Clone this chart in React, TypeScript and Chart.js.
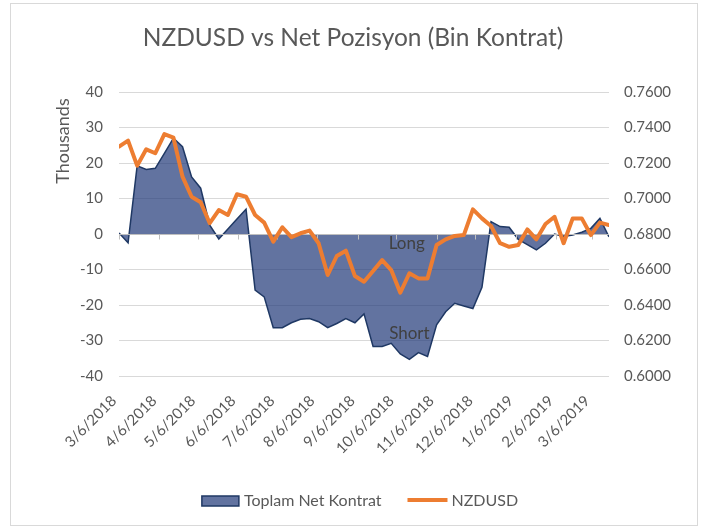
import React, { useEffect, useRef } from 'react';
import { Chart, registerables } from 'chart.js';

Chart.register(...registerables);

const weekDates = [
  '3/6/2018', '3/13/2018', '3/20/2018', '3/27/2018', '4/3/2018', '4/10/2018', '4/17/2018', '4/24/2018',
  '5/1/2018', '5/8/2018', '5/15/2018', '5/22/2018', '5/29/2018', '6/5/2018', '6/12/2018', '6/19/2018',
  '6/26/2018', '7/3/2018', '7/10/2018', '7/17/2018', '7/24/2018', '7/31/2018', '8/7/2018', '8/14/2018',
  '8/21/2018', '8/28/2018', '9/4/2018', '9/11/2018', '9/18/2018', '9/25/2018', '10/2/2018', '10/9/2018',
  '10/16/2018', '10/23/2018', '10/30/2018', '11/6/2018', '11/13/2018', '11/20/2018', '11/27/2018', '12/4/2018',
  '12/11/2018', '12/18/2018', '12/25/2018', '1/1/2019', '1/8/2019', '1/15/2019', '1/22/2019', '1/29/2019',
  '2/5/2019', '2/12/2019', '2/19/2019', '2/26/2019', '3/5/2019', '3/12/2019', '3/19/2019',
];

// Toplam Net Kontrat (thousands)
const netPositions = [
  0.3, -2.5, 19.2, 18.2, 18.5, 22.7, 27.0, 24.6, 16.1, 12.9, 2.5, -1.4, 1.4, 4.2, 7.0, -15.8,
  -17.7, -26.4, -26.4, -25.0, -24.0, -23.8, -24.7, -26.4, -25.2, -23.8, -25.0, -22.5, -31.7, -31.7, -30.8, -33.8,
  -35.3, -33.4, -34.5, -25.6, -21.9, -19.5, -20.3, -21.0, -15.0, 3.5, 2.1, 1.9, -1.5, -3.0, -4.5, -2.6,
  0.0, -0.7, -0.3, 0.5, 1.6, 4.4, -0.8,
];

const nzdusd = [
  0.7292, 0.7326, 0.7185, 0.7277, 0.7255, 0.7363, 0.7343, 0.7123, 0.7010, 0.6979, 0.6861, 0.6935, 0.6907, 0.7024, 0.7010, 0.6907,
  0.6864, 0.6757, 0.6838, 0.6782, 0.6804, 0.6819, 0.6748, 0.6569, 0.6676, 0.6706, 0.6563, 0.6531, 0.6592, 0.6653, 0.6597, 0.6469,
  0.6579, 0.6550, 0.6550, 0.6738, 0.6770, 0.6789, 0.6794, 0.6939, 0.6888, 0.6845, 0.6748, 0.6728, 0.6738, 0.6826, 0.6770, 0.6856,
  0.6897, 0.6748, 0.6888, 0.6888, 0.6794, 0.6864, 0.6851,
];

const monthTickLabels = [
  '3/6/2018', '4/6/2018', '5/6/2018', '6/6/2018', '7/6/2018', '8/6/2018', '9/6/2018',
  '10/6/2018', '11/6/2018', '12/6/2018', '1/6/2019', '2/6/2019', '3/6/2019',
];

const seriesNames = ['Toplam Net Kontrat', 'NZDUSD'];
const chartTitle = 'NZDUSD vs Net Pozisyon (Bin Kontrat)';
const leftAxisTitle = 'Thousands';
const annotationTexts = ['Long', 'Short'];
const annotationDates = ['10/14/2018', '10/16/2018'];
const annotationValues = [-2.8, -27.9];

const FONT = 'Lato, "Open Sans", sans-serif';
const AREA_FILL = 'rgba(31,56,120,0.70)';
const AREA_LINE = '#1F3864';
const ORANGE = '#ED7D31';
const TEXT = '#595959';

function toDay(s: string): number {
  const [m, d, y] = s.split('/').map(Number);
  const [m0, d0, y0] = weekDates[0].split('/').map(Number);
  return (Date.UTC(y, m - 1, d) - Date.UTC(y0, m0 - 1, d0)) / 86400000;
}

const decorPlugin = {
  id: 'decor',
  beforeDraw(chart: any) {
    const ctx = chart.ctx;
    ctx.save();
    ctx.fillStyle = '#ffffff';
    ctx.fillRect(0, 0, chart.width, chart.height);
    ctx.strokeStyle = '#D9D9D9';
    ctx.lineWidth = 1;
    ctx.strokeRect(10.5, 3.5, 687, 522);
    ctx.restore();
  },
  afterDatasetDraw(chart: any, args: any) {
    if (args.index !== 0) return;
    const ctx = chart.ctx;
    const ys = chart.scales.y;
    const xs = chart.scales.x;
    const area = chart.chartArea;
    const y0 = Math.round(ys.getPixelForValue(0)) + 0.5;
    ctx.save();
    ctx.strokeStyle = '#BFBFBF';
    ctx.lineWidth = 1;
    ctx.beginPath();
    ctx.moveTo(area.left, y0);
    ctx.lineTo(area.right, y0);
    xs.ticks.forEach((t: any) => {
      const px = Math.round(xs.getPixelForValue(t.value)) + 0.5;
      ctx.moveTo(px, y0);
      ctx.lineTo(px, y0 + 5);
    });
    ctx.stroke();
    ctx.restore();
  },
  afterDraw(chart: any) {
    const ctx = chart.ctx;
    const xs = chart.scales.x;
    const ys = chart.scales.y;
    ctx.save();
    // title
    ctx.fillStyle = TEXT;
    ctx.font = `24.5px ${FONT}`;
    ctx.textAlign = 'center';
    ctx.textBaseline = 'middle';
    ctx.fillText(chartTitle, 353, 38);
    // left axis title
    ctx.save();
    ctx.translate(63, 141);
    ctx.rotate(-Math.PI / 2);
    ctx.font = `18px ${FONT}`;
    ctx.fillText(leftAxisTitle, 0, 0);
    ctx.restore();
    // annotations
    ctx.fillStyle = '#404040';
    ctx.font = `17px ${FONT}`;
    annotationTexts.forEach((t, i) => {
      ctx.fillText(t, xs.getPixelForValue(toDay(annotationDates[i])), ys.getPixelForValue(annotationValues[i]));
    });
    // legend
    ctx.font = `16px ${FONT}`;
    ctx.textAlign = 'left';
    const w1 = ctx.measureText(seriesNames[0]).width;
    const w2 = ctx.measureText(seriesNames[1]).width;
    const total = 37 + 5 + w1 + 26 + 40 + 4 + w2;
    let x = 360 - total / 2;
    const ly = 501;
    ctx.fillStyle = AREA_FILL;
    ctx.fillRect(x, ly - 5, 37, 10);
    ctx.strokeStyle = AREA_LINE;
    ctx.lineWidth = 1.5;
    ctx.strokeRect(x, ly - 5, 37, 10);
    x += 42;
    ctx.fillStyle = TEXT;
    ctx.fillText(seriesNames[0], x, ly);
    x += w1 + 26;
    ctx.strokeStyle = ORANGE;
    ctx.lineWidth = 4;
    ctx.beginPath();
    ctx.moveTo(x, ly - 1);
    ctx.lineTo(x + 40, ly - 1);
    ctx.stroke();
    x += 44;
    ctx.fillText(seriesNames[1], x, ly);
    ctx.restore();
  },
};

export default function App() {
  const canvasRef = useRef<HTMLCanvasElement | null>(null);

  useEffect(() => {
    if (!canvasRef.current) return;
    Chart.defaults.font.family = FONT;
    const days = weekDates.map(toDay);
    const tickDays = monthTickLabels.map(toDay);
    const chart = new Chart(canvasRef.current, {
      type: 'line',
      data: {
        datasets: [
          {
            label: seriesNames[0],
            data: days.map((d, i) => ({ x: d, y: netPositions[i] })),
            yAxisID: 'y',
            fill: 'origin',
            backgroundColor: AREA_FILL,
            borderColor: AREA_LINE,
            borderWidth: 1.5,
            pointRadius: 0,
            tension: 0,
            order: 2,
          },
          {
            label: seriesNames[1],
            data: days.map((d, i) => ({ x: d, y: nzdusd[i] })),
            yAxisID: 'y1',
            fill: false,
            borderColor: ORANGE,
            backgroundColor: ORANGE,
            borderWidth: 4,
            borderJoinStyle: 'round',
            borderCapStyle: 'round',
            pointRadius: 0,
            tension: 0,
            order: 1,
          },
        ],
      },
      options: {
        animation: false,
        responsive: false,
        layout: { padding: { top: 92, left: 0, right: 0, bottom: 0 } },
        plugins: {
          legend: { display: false },
          title: { display: false },
          tooltip: { enabled: false },
        },
        scales: {
          x: {
            type: 'linear',
            min: days[0],
            max: days[days.length - 1],
            grid: { display: false },
            border: { display: false },
            afterBuildTicks: (scale: any) => {
              scale.ticks = tickDays.map((v) => ({ value: v }));
            },
            afterFit: (scale: any) => {
              scale.height = 151;
            },
            ticks: {
              autoSkip: false,
              minRotation: 45,
              maxRotation: 45,
              padding: 8,
              labelOffset: -5,
              color: TEXT,
              font: { size: 15 },
              callback: (v: any) => {
                const idx = tickDays.indexOf(Number(v));
                return idx >= 0 ? monthTickLabels[idx] : '';
              },
            },
          },
          y: {
            position: 'left',
            min: -40,
            max: 40,
            grid: { color: '#D9D9D9', drawTicks: false },
            border: { display: false },
            afterFit: (scale: any) => {
              scale.width = 119;
            },
            ticks: { stepSize: 10, padding: 16, color: TEXT, font: { size: 15 } },
          },
          y1: {
            position: 'right',
            min: 0.6,
            max: 0.76,
            grid: { display: false, drawTicks: false },
            border: { display: false },
            afterFit: (scale: any) => {
              scale.width = 93;
            },
            ticks: {
              stepSize: 0.02,
              padding: 15,
              color: TEXT,
              font: { size: 15 },
              callback: (v: any) => Number(v).toFixed(4),
            },
          },
        },
      },
      plugins: [decorPlugin],
    } as any);
    return () => chart.destroy();
  }, []);

  return (
    <div style={{ position: 'absolute', left: 0, top: 0, width: 702, height: 527 }}>
      <canvas ref={canvasRef} width={702} height={527} style={{ display: 'block' }} />
    </div>
  );
}
